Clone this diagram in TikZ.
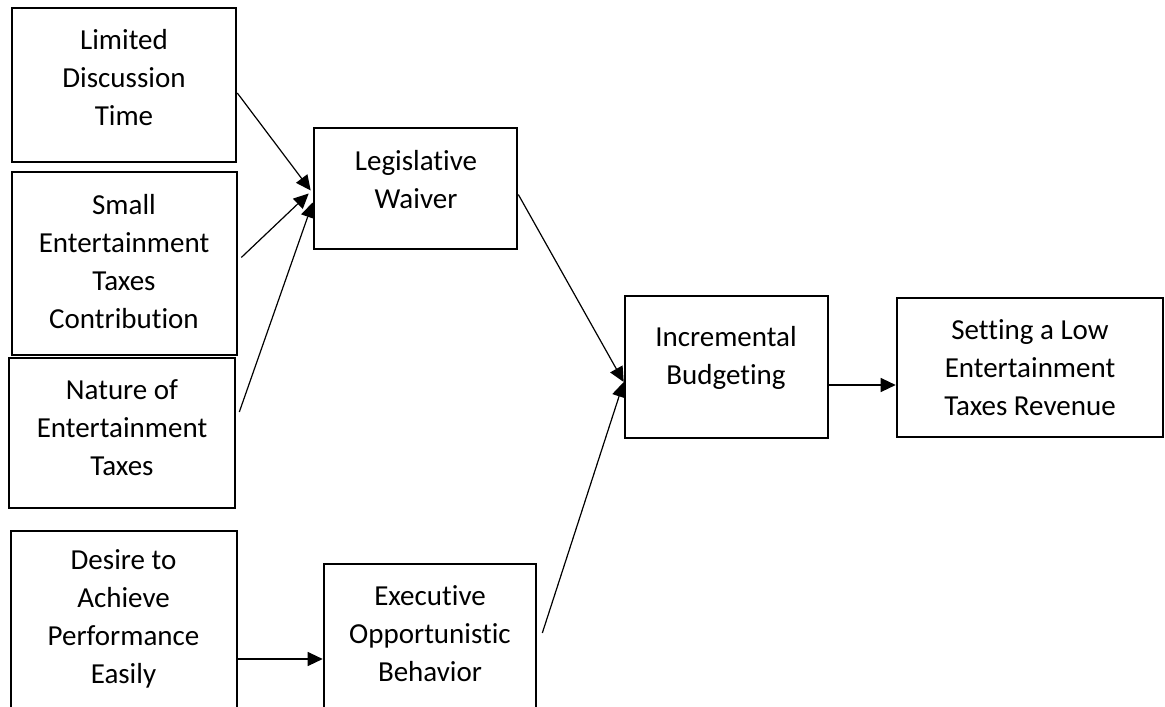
\documentclass[tikz,border=0pt]{standalone}
\usepackage{fontspec}
\setmainfont{Carlito}[Ligatures=NoCommon]
\usetikzlibrary{arrows.meta}

\begin{document}
\begin{tikzpicture}[x=0.5pt,y=-0.5pt,
	box/.style={draw,line width=1.3pt,inner sep=0pt},
	txt/.style={align=center,inner sep=0pt,font=\fontsize{14.5pt}{19pt}\selectfont},
	arr/.style={line width=0.6pt,-{Triangle[length=7.5pt,width=7pt]}}]
	\clip (0,0) rectangle (1165,706);
	
	% left column
	\node[box,minimum width=112pt,minimum height=77pt] (ldt) at (124,85) {};
	\node[txt] (ldt-t) at (124,78) {Limited\\Discussion\\Time};
	\node[box,minimum width=112.5pt,minimum height=91.5pt] (setc) at (124.5,263.5) {};
	\node[txt] (setc-t) at (124,262) {Small\\Entertainment\\Taxes\\Contribution};
	\node[box,minimum width=113pt,minimum height=75pt] (net) at (122,433) {};
	\node[txt] (net-t) at (122,428) {Nature of\\Entertainment\\Taxes};
	\node[box,minimum width=113pt,minimum height=94.5pt] (des) at (124,625.5) {};
	\node[txt] (des-t) at (123.5,618.5) {Desire to\\Achieve\\Performance\\Easily};
	
	% middle and right
	\node[box,minimum width=101.5pt,minimum height=60.5pt] (lw) at (415.5,188.5) {};
	\node[txt] (lw-t) at (416,180) {Legislative\\Waiver};
	\node[box,minimum width=106pt,minimum height=78pt] (exo) at (430,642) {};
	\node[txt] (exo-t) at (430,634) {Executive\\Opportunistic\\Behavior};
	\node[box,minimum width=101.5pt,minimum height=71pt] (ib) at (726.5,367) {};
	\node[txt] (ib-t) at (726,358) {Incremental\\Budgeting};
	\node[box,minimum width=133pt,minimum height=69.5pt] (stl) at (1030,367.5) {};
	\node[txt] (stl-t) at (1030,368) {Setting a Low\\Entertainment\\Taxes Revenue};
	
	\draw[arr] ([yshift=-4pt]ldt.east) -- ([xshift=-1pt,yshift=-1pt]lw.west);
	\draw[arr] ([xshift=1.5pt,yshift=3pt]setc.east) -- ([xshift=-2pt,yshift=-2.5pt]lw.west);
	\draw[arr] ([xshift=1.5pt,yshift=10.5pt]net.east) -- ([yshift=-7pt]lw.west);
	\draw[arr] ([yshift=-3pt]lw.east) -- ([yshift=-7.5pt]ib.west);
	\draw[arr] ([xshift=2.5pt,yshift=4.5pt]exo.east) -- ([yshift=-7.5pt]ib.west);
	\draw[arr] ([xshift=-1pt,yshift=-9pt]ib.east) -- ([yshift=-8.75pt]stl.west);
	\draw[arr] ([yshift=-16.75pt]des.east) -- ([yshift=-8.5pt]exo.west);
\end{tikzpicture}
\end{document}
